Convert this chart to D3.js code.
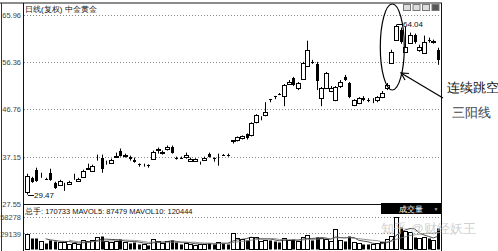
<!DOCTYPE html>
<html>
<head>
<meta charset="utf-8">
<script src="https://cdn.jsdelivr.net/npm/d3@7"></script>
<style>
  html, body { margin: 0; padding: 0; background: #fff; }
  svg { display: block; }
  text { font-family: "Liberation Sans", Arial, sans-serif; }
</style>
</head>
<body>
<svg id="chart"></svg>
<script>
// daily OHLC (89 sessions)
var open = [30.01,32.88,34.52,33.25,32.70,33.90,31.85,31.44,31.20,31.65,
    32.64,32.26,33.08,34.72,34.31,36.95,36.98,35.92,35.95,37.18,
    38.41,37.36,37.18,36.57,35.75,35.52,35.54,36.77,38.58,37.98,
    38.82,39.23,36.98,36.99,37.18,36.36,36.36,35.93,36.57,37.79,
    37.00,36.96,37.59,37.59,40.40,40.46,40.87,41.69,41.48,44.15,
    44.95,45.58,48.86,49.47,49.92,49.47,51.93,53.16,51.11,52.96,
    55.62,56.50,56.03,49.06,51.11,50.50,48.65,51.52,53.37,52.14,
    47.63,48.04,49.06,48.70,48.62,48.65,49.27,51.11,56.24,60.95,
    63.00,58.49,60.33,61.97,58.90,58.28,60.80,60.52,58.90];
var high = [33.70,33.08,34.93,33.90,32.88,34.72,32.06,32.47,31.85,32.26,
    33.70,32.88,34.52,35.75,35.54,37.59,37.59,36.36,36.77,38.00,
    38.82,37.79,37.38,36.98,35.80,35.75,35.60,38.41,39.02,38.41,
    39.43,39.43,37.18,37.18,38.00,36.98,36.85,36.16,37.18,38.00,
    37.02,37.79,37.70,37.79,40.50,41.28,41.48,41.90,44.15,45.79,
    45.38,48.24,48.90,49.52,50.09,51.93,52.75,53.37,52.34,56.44,
    60.74,56.85,56.44,51.32,54.39,51.52,51.52,52.75,53.78,52.34,
    48.86,49.27,49.47,49.06,49.06,49.47,50.50,52.14,58.90,64.04,
    63.40,63.61,62.38,62.18,59.92,61.77,61.36,60.95,59.31];
var low = [29.47,31.85,32.06,32.88,32.47,32.26,30.62,31.24,30.21,31.44,
    32.47,32.06,32.88,34.60,34.10,36.36,33.90,35.54,35.75,37.10,
    37.18,36.98,36.36,35.95,35.13,35.13,34.93,36.57,37.79,37.59,
    38.41,37.79,36.57,36.77,36.77,36.16,36.30,35.54,36.36,36.98,
    36.16,35.34,37.30,37.18,39.84,40.25,40.66,40.66,41.28,43.94,
    44.56,45.38,48.24,48.86,49.68,47.43,51.73,51.52,50.70,52.75,
    55.42,56.03,50.70,47.43,50.91,50.29,48.45,51.11,52.55,49.06,
    47.43,47.84,48.45,48.24,48.04,48.24,49.06,50.70,56.03,60.74,
    60.13,58.28,60.13,60.13,58.49,58.08,60.33,60.13,55.83];
var close = [33.29,32.06,32.26,33.32,32.64,32.47,30.83,32.26,31.26,32.06,
    32.70,32.67,34.31,34.90,35.34,37.00,34.72,35.98,36.57,37.38,
    37.38,37.41,36.77,36.16,35.70,35.56,35.50,38.20,38.64,38.03,
    39.23,38.00,36.77,36.96,37.59,36.77,36.77,35.98,36.98,37.18,
    36.95,37.00,37.38,37.38,40.46,41.07,41.28,40.87,43.94,45.58,
    45.00,46.20,48.82,49.43,49.86,51.73,52.34,51.73,52.14,56.24,
    58.90,56.40,52.55,51.11,54.19,51.11,51.32,52.34,52.75,49.27,
    48.65,49.06,48.65,48.60,48.68,49.27,50.09,51.73,58.49,63.80,
    60.54,59.51,61.97,60.54,59.51,60.54,60.70,60.58,56.85];
var volume = [27000,20000,19500,14000,11000,17000,15000,13000,12000,9500,
    10500,9000,15500,14500,16000,21000,22500,14000,12000,15000,
    17500,12500,11000,12000,9000,8500,8000,18000,15000,11500,
    14000,15500,12000,8500,10000,9000,8000,8500,9500,11000,
    9000,12500,10500,9000,29000,20500,18000,16500,22000,21000,
    14500,17000,16000,13500,12500,19000,15500,18000,14000,21500,
    25000,16000,21000,19000,17500,14000,36000,17000,15000,22500,
    13000,11000,9500,9000,8500,10000,12000,17500,24000,57500,
    39000,33000,30000,22000,19500,21000,20000,16500,37500];

var priceTicks = [27.55, 37.15, 46.76, 56.36, 65.96];
var volTicks = [29139, 58278];
var title = '日线(复权)  中金黄金';
var volInfo = '总手: 170733  MAVOL5: 87479  MAVOL10: 120444';
var notes = ['连续跳空', '三阳线'];
var hiLabel = '64.04', loLabel = '29.47';
var hiIndex = 79, loIndex = 0;

var width = 498, height = 251;
var svg = d3.select('#chart').attr('width', width).attr('height', height);

var n = close.length;
var x = d3.scaleLinear().domain([0, n - 1]).range([27, 438]);
var y = d3.scaleLinear().domain([27.55, 65.96]).range([204, 15]);
var yv = d3.scaleLinear().domain([0, 58278]).range([249, 216.5]);
var idx = d3.range(n);
function cx(i) { return Math.round(x(i)); }
function up(i) { return close[i] >= open[i]; }

// dotted grid
svg.append('g').selectAll('line').data(priceTicks.slice(1)).join('line')
    .attr('x1', 24).attr('x2', 441)
    .attr('y1', function (d) { return Math.round(y(d)) + 0.5; })
    .attr('y2', function (d) { return Math.round(y(d)) + 0.5; })
    .attr('stroke', '#8a8a8a').attr('stroke-dasharray', '1,2');
svg.append('g').selectAll('line').data(volTicks).join('line')
    .attr('x1', 24).attr('x2', 441)
    .attr('y1', function (d) { return Math.round(yv(d)) + 0.5; })
    .attr('y2', function (d) { return Math.round(yv(d)) + 0.5; })
    .attr('stroke', '#8a8a8a').attr('stroke-dasharray', '1,2');

// price axis labels
var yAxis = d3.axisLeft(y).tickValues(priceTicks).tickFormat(d3.format('.2f'))
    .tickSize(0).tickPadding(2);
var ga = svg.append('g').attr('transform', 'translate(23,0)').call(yAxis);
ga.select('.domain').remove();
ga.selectAll('text').attr('font-size', 7.5).attr('fill', '#444')
    .attr('font-family', '"Liberation Sans", Arial, sans-serif');

var vAxis = d3.axisLeft(yv).tickValues(volTicks).tickFormat(d3.format('d'))
    .tickSize(0).tickPadding(2);
var gv = svg.append('g').attr('transform', 'translate(23,1)').call(vAxis);
gv.select('.domain').remove();
gv.selectAll('text').attr('font-size', 7.5).attr('fill', '#444')
    .attr('font-family', '"Liberation Sans", Arial, sans-serif');

// frame
svg.append('line').attr('x1', 0).attr('x2', 442).attr('y1', 3).attr('y2', 3)
    .attr('stroke', '#8c8c8c').attr('stroke-width', 2);
svg.append('line').attr('x1', 1.5).attr('x2', 1.5).attr('y1', 3).attr('y2', 251)
    .attr('stroke', '#333');
svg.append('line').attr('x1', 23.5).attr('x2', 23.5).attr('y1', 3).attr('y2', 251)
    .attr('stroke', '#111');
svg.append('line').attr('x1', 441.5).attr('x2', 441.5).attr('y1', 3).attr('y2', 251)
    .attr('stroke', '#111');
svg.append('line').attr('x1', 23).attr('x2', 442).attr('y1', 204.5).attr('y2', 204.5)
    .attr('stroke', '#111');

// toolbar icons top right
svg.append('g').selectAll('rect').data([0, 1, 2, 3]).join('rect')
    .attr('x', function (d) { return 403.5 + d * 9.5; }).attr('y', 4.5)
    .attr('width', 7).attr('height', 6)
    .attr('fill', function (d) { return d === 3 ? '#555' : '#ddd'; })
    .attr('stroke', '#777');

// title
svg.append('text').attr('x', 25).attr('y', 12).text(title)
    .attr('font-size', 8).attr('fill', '#111')
    .attr('font-family', '"Noto Sans CJK SC", sans-serif');

// candles
var candles = svg.append('g');
candles.selectAll('line').data(idx).join('line')
    .attr('x1', function (i) { return cx(i) + 0.5; })
    .attr('x2', function (i) { return cx(i) + 0.5; })
    .attr('y1', function (i) { return y(high[i]); })
    .attr('y2', function (i) { return y(low[i]); })
    .attr('stroke', '#000');
candles.selectAll('rect').data(idx).join('rect')
    .attr('x', function (i) { return up(i) ? cx(i) - 1.5 : cx(i) - 1; })
    .attr('width', function (i) { return up(i) ? 4 : 3; })
    .attr('y', function (i) { return Math.round(y(Math.max(open[i], close[i]))) + (up(i) ? 0.5 : 0); })
    .attr('height', function (i) {
        return Math.max(up(i) ? 0 : 1, Math.round(y(Math.min(open[i], close[i]))) - Math.round(y(Math.max(open[i], close[i]))));
    })
    .attr('fill', function (i) { return up(i) ? '#fff' : '#000'; })
    .attr('stroke', function (i) { return up(i) ? '#000' : 'none'; });

// high / low markers
svg.append('line').attr('x1', cx(hiIndex) + 1).attr('x2', cx(hiIndex) + 7)
    .attr('y1', Math.round(y(high[hiIndex])) + 0.5).attr('y2', Math.round(y(high[hiIndex])) + 0.5)
    .attr('stroke', '#000');
svg.append('text').attr('x', cx(hiIndex) + 7).attr('y', y(high[hiIndex]) + 3)
    .text(hiLabel).attr('font-size', 8).attr('fill', '#111')
    .attr('font-family', '"DejaVu Sans Mono", monospace');
svg.append('line').attr('x1', cx(loIndex) + 1).attr('x2', cx(loIndex) + 7)
    .attr('y1', Math.round(y(low[loIndex])) + 0.5).attr('y2', Math.round(y(low[loIndex])) + 0.5)
    .attr('stroke', '#000');
svg.append('text').attr('x', cx(loIndex) + 7).attr('y', y(low[loIndex]) + 3)
    .text(loLabel).attr('font-size', 8).attr('fill', '#111')
    .attr('font-family', '"DejaVu Sans Mono", monospace');

// volume bars
var vols = svg.append('g');
vols.selectAll('rect').data(idx).join('rect')
    .attr('x', function (i) { return up(i) ? cx(i) - 1.5 : cx(i) - 1; })
    .attr('width', function (i) { return up(i) ? 4 : 3; })
    .attr('y', function (i) { return Math.round(yv(volume[i])) + 0.5; })
    .attr('height', function (i) { return yv(0) - Math.round(yv(volume[i])); })
    .attr('fill', function (i) { return up(i) ? '#fff' : '#000'; })
    .attr('stroke', function (i) { return up(i) ? '#000' : 'none'; });

function movingAvg(k) {
    return idx.filter(function (i) { return i >= k - 1; }).map(function (i) {
        return [i, d3.mean(volume.slice(i - k + 1, i + 1))];
    });
}
var line = d3.line().x(function (d) { return x(d[0]); }).y(function (d) { return yv(d[1]); });
svg.append('path').datum(movingAvg(5)).attr('d', line)
    .attr('fill', 'none').attr('stroke', '#222').attr('stroke-width', 0.8);
svg.append('path').datum(movingAvg(10)).attr('d', line)
    .attr('fill', 'none').attr('stroke', '#777').attr('stroke-width', 0.8);

svg.append('text').attr('x', 25).attr('y', 214).text(volInfo)
    .attr('font-size', 7.5).attr('fill', '#111')
    .attr('font-family', '"Noto Sans CJK SC", sans-serif');

// volume selector box
svg.append('rect').attr('x', 381).attr('y', 203).attr('width', 60).attr('height', 11).attr('fill', '#000');
svg.append('text').attr('x', 411).attr('y', 211.5).attr('text-anchor', 'middle').text('成交量')
    .attr('font-size', 7.5).attr('fill', '#fff')
    .attr('font-family', '"Noto Sans CJK SC", sans-serif');
svg.append('text').attr('x', 436).attr('y', 211).attr('text-anchor', 'middle').text('▼')
    .attr('font-size', 5).attr('fill', '#aaa');

// annotation: ellipse around the gap-up candles, arrow and notes
var gapMid = d3.mean([77, 79]);
svg.append('ellipse').attr('cx', x(gapMid) + 1).attr('cy', 47)
    .attr('rx', 12).attr('ry', 43)
    .attr('fill', 'none').attr('stroke', '#000').attr('stroke-width', 1.2);
svg.append('line').attr('x1', 443).attr('y1', 98).attr('x2', 401).attr('y2', 73)
    .attr('stroke', '#000').attr('stroke-width', 1.2);
svg.append('path').attr('d', 'M409,73.5 L401,73 L405,80')
    .attr('fill', 'none').attr('stroke', '#000').attr('stroke-width', 1.2);
svg.selectAll('text.note').data(notes).join('text').attr('class', 'note')
    .attr('x', function (d, i) { return i === 0 ? 447 : 452; })
    .attr('y', function (d, i) { return i === 0 ? 92 : 117; })
    .text(function (d) { return d; })
    .attr('font-size', 12.5).attr('fill', function (d, i) { return i === 0 ? '#111' : '#444'; })
    .attr('font-family', '"Noto Sans CJK SC", sans-serif');

// watermark
svg.append('text').attr('x', 381).attr('y', 233).text('知乎 @财经妖王')
    .attr('font-size', 13).attr('fill', '#c8c8c8').attr('fill-opacity', 0.85)
    .attr('font-family', '"Noto Sans CJK SC", sans-serif');
</script>
</body>
</html>
